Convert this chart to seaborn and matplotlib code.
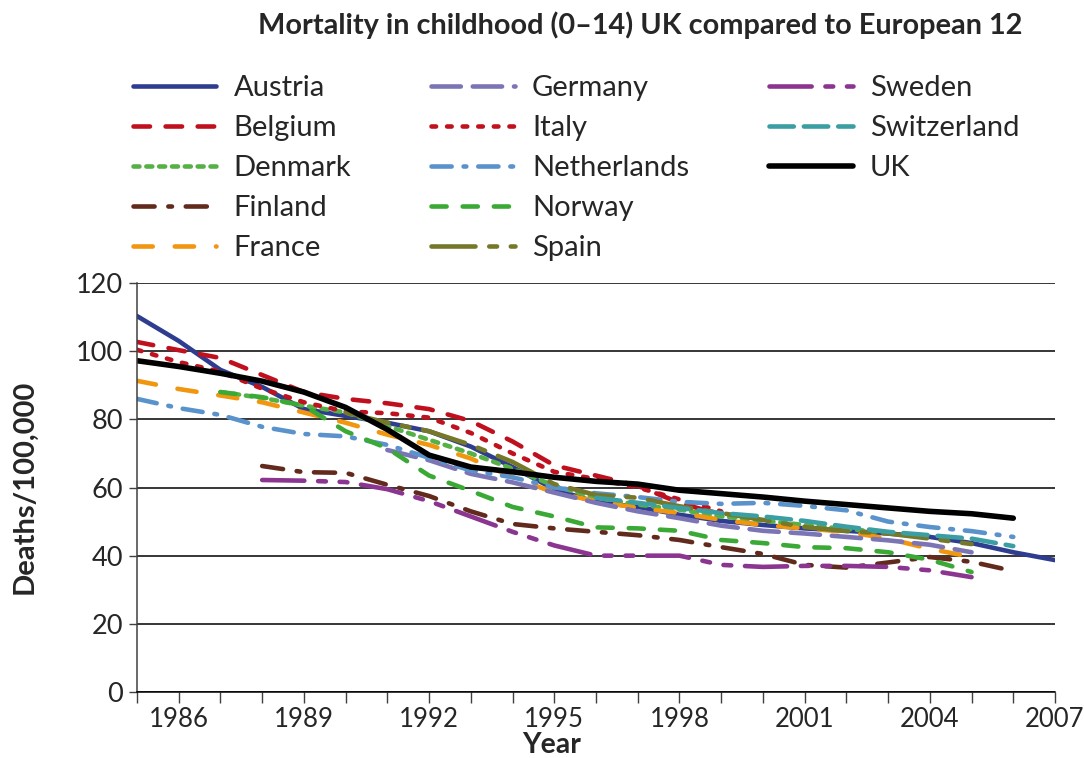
import numpy as np
import matplotlib
matplotlib.use("Agg")
import matplotlib.pyplot as plt
from matplotlib.lines import Line2D
import seaborn as sns

nan = np.nan

# years 1985..2007, deaths per 100,000 children aged 0-14
YEARS = list(range(1985, 2008))

AUSTRIA = [110.3, 103, 94.5, 89.5, 83, 81, 79, 76.5, 72, 66, 59.5, 55.7, 54.3,
           52, 50.2, 49, 48, 47.3, 46.5, 45.5, 43.7, 41, 38.7]
BELGIUM = [102.7, 100.3, 98, 93, 88, 86, 84.7, 83, 79.5, 73.5, 66.5, 63.5, 60.5,
           55.5, 52] + [nan] * 8
DENMARK = [nan, nan, 88, 86.3, 84, 82, 78, 74, 70, 65.5, 60.5, 57, 55, 53.5,
           51.5, 50.3, 49, 47.8, 46.8, nan, nan, nan, nan]
FINLAND = [nan, nan, nan, 66.3, 64.5, 64.3, 60.8, 57.5, 53, 49.3, 48, 47, 46,
           44.6, 42.5, 40.5, 37.3, 36.5, 38, 39.6, 38.2, 35.5, nan]
FRANCE = [91.3, 88.9, 87, 85, 82, 79, 75.5, 72.5, 68.5, 63, 58.5, 56, 54, 52.5,
          50.5, 49, 48, 47, 45, 42, 39.6, nan, nan]
GERMANY = [nan] * 6 + [71, 68, 64, 61.5, 58.5, 55.5, 53, 51, 48.8, 47.3, 46.5,
                       45.5, 44.5, 43.2, 41, nan, nan]
ITALY = [100.4, 96.8, 94, 89, 85, 82.3, 81.8, 80.5, 76, 70, 64.6, 62.5, 60,
         56.5, 53] + [nan] * 8
NETHERLANDS = [86, 83.3, 81.3, 77.8, 75.7, 75, 72.5, 68.7, 65, 63, 60, 58.3, 57.2,
               55.8, 55.2, 55.5, 54.6, 53.3, 50, 48.4, 47.2, 45.5, nan]
NORWAY = [nan, nan, 88, 86.5, 84, 76.5, 71.5, 63.5, 59, 54.3, 51.5, 48.3, 48,
          47.3, 44.6, 43.7, 42.5, 42.2, 41, 38.8, 35.2, nan, nan]
SPAIN = [nan] * 5 + [82, 79, 76.5, 72.5, 67.5, 61, 57.8, 57, 54.5, 52.5, 50.5,
                     48.4, 47.2, 46.5, 45, 43.4, nan, nan]
SWEDEN = [nan] * 3 + [62.2, 62, 61.6, 59.5, 56, 51.5, 47, 43, 40, 40, 40, 37.3,
                      36.7, 37, 37, 36.7, 35.7, 33.7, nan, nan]
SWITZERLAND = [nan] * 11 + [57, 55.5, 54, 52.5, 51.5, 50.2, 48.5, 47, 46, 45,
                            42.8, nan]
UK = [97.2, 95.5, 93.5, 91.2, 88, 83.5, 77, 69.5, 66, 64.6, 63, 61.8, 61, 59.2,
      58.2, 57.2, 56, 55, 54, 53, 52.3, 51, nan]

COUNTRIES = ["Austria", "Belgium", "Denmark", "Finland", "France", "Germany",
             "Italy", "Netherlands", "Norway", "Spain", "Sweden", "Switzerland", "UK"]
SERIES = [AUSTRIA, BELGIUM, DENMARK, FINLAND, FRANCE, GERMANY, ITALY,
          NETHERLANDS, NORWAY, SPAIN, SWEDEN, SWITZERLAND, UK]

# colour, dash pattern (in linewidths, None = solid)
STYLES = {
    "Austria":     ("#2e3d8f", None),
    "Belgium":     ("#c0101e", (3.6, 3.4)),
    "Denmark":     ("#55b046", (1.3, 1.5)),
    "Finland":     ("#622a1c", (4.6, 3.0, 0.8, 3.0)),
    "France":      ("#f0960f", (4.2, 4.8)),
    "Germany":     ("#7b75b5", (6.4, 2.6)),
    "Italy":       ("#c0111f", (1.0, 2.4)),
    "Netherlands": ("#5a93cc", (4.4, 2.6, 0.6, 2.6)),
    "Norway":      ("#3aa935", (3.3, 3.5)),
    "Spain":       ("#767829", (9.6, 3.0, 1.7, 3.0)),
    "Sweden":      ("#8b3590", (9.2, 3.0, 1.7, 3.0, 1.7, 3.0)),
    "Switzerland": ("#3a9ea2", (5.3, 2.2)),
    "UK":          ("#000000", None),
}

sns.set_style("ticks")
plt.rcParams["font.family"] = ["Lato", "DejaVu Sans"]

W, H = 1084, 758
fig = plt.figure(figsize=(W / 100, H / 100), dpi=100)
ax = fig.add_axes([137 / W, 1 - 692 / H, (1055 - 137) / W, (692 - 283) / H])

handles = []
for name, values in zip(COUNTRIES, SERIES):
    color, dash = STYLES[name]
    lw = 4.0 if name == "UK" else 3.3
    style = "-" if dash is None else (0, dash)
    sns.lineplot(x=YEARS, y=values, ax=ax, color=color, linewidth=lw,
                 linestyle=style, dash_capstyle="round", solid_capstyle="round",
                 errorbar=None, label=name, legend=False)
    handles.append(ax.lines[-1])

ax.set_xlim(1985, 2007)
ax.set_ylim(0, 120)
ax.set_xticks(list(range(1986, 2008, 3)))
ax.set_xticks(YEARS, minor=True)
ax.set_yticks(list(range(0, 121, 20)))
ax.tick_params(axis="x", which="both", length=8, width=1, color="#404040",
               labelsize=18.5, pad=3)
ax.tick_params(axis="y", length=6, width=1, color="#404040", labelsize=19.5, pad=4)

ax.yaxis.grid(True, color="black", linewidth=1.1)
ax.set_axisbelow(True)
sns.despine(ax=ax)
ax.spines["left"].set_color("#404040")
ax.spines["bottom"].set_color("black")
ax.spines["left"].set_linewidth(1.1)
ax.spines["bottom"].set_linewidth(1.1)
ax.set_xlabel("")
ax.set_ylabel("")

fig.text(552 / W, 1 - 745 / H, "Year", fontsize=20.5, fontweight="bold",
         ha="center", va="center")
fig.text(24 / W, 1 - 487 / H, "Deaths/100,000", fontsize=21, fontweight="bold",
         rotation=90, ha="center", va="center")
fig.text(640 / W, 1 - 25 / H,
         "Mortality in childhood (0\u201314) UK compared to European 12",
         fontsize=20.8, fontweight="bold", ha="center", va="center")

# pad the third legend column so the columns split 5 / 5 / 3
blank = Line2D([], [], linestyle="none")
leg_handles = handles + [blank, blank]
leg_labels = COUNTRIES + ["", ""]
fig.legend(leg_handles, leg_labels, loc="upper left",
           bbox_to_anchor=(133 / W, 1 - 75 / H),
           ncol=3, frameon=False, fontsize=21, handlelength=2.85,
           handletextpad=0.6, columnspacing=2.75, labelspacing=0.48,
           borderpad=0, borderaxespad=0)

fig.savefig("out.png", dpi=100)
